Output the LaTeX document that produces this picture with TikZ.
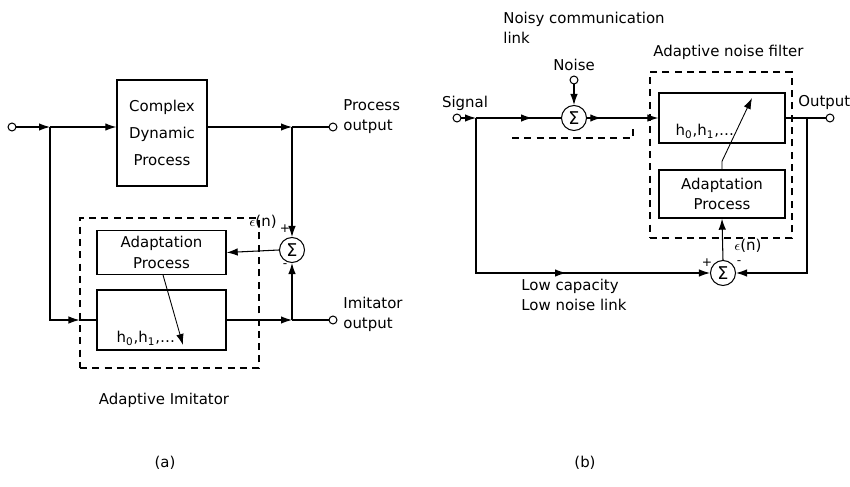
\documentclass[tikz,border=0pt]{standalone}
\usepackage{fontspec}
\setmainfont{DejaVu Sans}
\usetikzlibrary{arrows.meta, decorations.markings, calc}

\begin{document}
\begin{tikzpicture}[
  x=0.02cm, y=-0.02cm,
  font=\fontsize{8.5}{11.5}\selectfont,
  line width=0.6pt,
  >={Latex[length=2.2mm, width=1.5mm]},
  box/.style={draw, rectangle, line width=0.8pt},
  dashbox/.style={draw, rectangle, dash pattern=on 4pt off 3pt},
  sumnode/.style={draw, circle, inner sep=0pt, minimum size=0.5cm, font=\fontsize{10}{10}\selectfont},
  term/.style={draw, circle, inner sep=0pt, minimum size=4.5pt, fill=white},
  signlbl/.style={font=\fontsize{7}{7}\selectfont, inner sep=0pt},
  midarrow/.style={postaction={decorate},
    decoration={markings, mark=at position #1 with {\arrow{Latex[length=2.2mm, width=1.5mm]}}}}
]
\useasboundingbox (0,0) rectangle (850,487);

% (a) adaptive imitator
\node[term] (inA) at (12,127) {};
\coordinate (jA) at (50,127);
\node[box, minimum width=1.8cm, minimum height=2.12cm, align=center] (cdp) at (162,133)
  {Complex\\[4pt]Dynamic\\[4pt]Process};
\coordinate (jB) at (292,127);
\node[term] (outA) at (333,127) {};
\node[anchor=west, align=left] (outAlbl) at (337,117) {Process\\output};

\node[dashbox, minimum width=3.58cm, minimum height=3cm] (imit) at (169.5,293) {};
\node[box, minimum width=2.58cm, minimum height=0.78cm, align=center] (adaptA) at (161.5,252.5)
  {Adaptation\\Process};
\node[box, minimum width=2.58cm, minimum height=1.2cm] (filtA) at (161.5,320) {};
\node[anchor=base west] (hA) at ([shift={(0.28cm,0.16cm)}]filtA.south west)
  {h\textsubscript{0},h\textsubscript{1},\dots};
\coordinate (tipA) at (183,345);

\node[sumnode] (sumA) at (292,250) {Σ};
\coordinate (jC) at (292,320);
\node[term] (outB) at (333,320) {};
\node[anchor=west, align=left] (outBlbl) at (337,314) {Imitator\\output};
\node[anchor=east] (errA) at (283,222) {$\epsilon$(n)};
\node[signlbl] (plusA) at (285,229) {+};
\node[signlbl] (minusA) at (285,266) {-};
\node (imitlbl) at (164,400) {Adaptive Imitator};
\node (capA) at (165,463) {(a)};

\draw[->] (inA) -- (jA);
\draw[->] (jA) -- (cdp.west |- jA);
\draw[->] (cdp.east |- jB) -- (jB);
\draw (jB) -- (outA);
\draw[->] (jB) -- (sumA.north);
\draw[->] (jA) |- (imit.west |- filtA.west);
\draw (imit.west |- filtA.west) -- (filtA.west);
\draw[->] (filtA.east) -- (jC);
\draw (jC) -- (outB);
\draw[->] (jC) -- (sumA.south);
\draw[->] (sumA.west) -- (adaptA.east);
\draw[->, line width=0.5pt] ([xshift=0.03cm]adaptA.south) -- (tipA);

% (b) adaptive noise filter
\node[align=left, anchor=west] (linklbl) at (497,28) {Noisy communication\\link};
\node (noiselbl) at (574,65) {Noise};
\node[term] (noise) at (574,80) {};
\node[sumnode] (sumB) at (574,118) {Σ};
\node (siglbl) at (465,103) {Signal};
\node[term] (sig) at (457,118) {};
\coordinate (jE) at (476,118);
\coordinate (lkA) at (512,138);
\coordinate (lkB) at (633,138);
\coordinate (lkC) at (633,126);

\node[dashbox, minimum width=2.84cm, minimum height=3.32cm] (anf) at (721,155) {};
\node[anchor=west] (anflbl) at (647,52) {Adaptive noise filter};
\node[box, minimum width=2.52cm, minimum height=1cm] (filtB) at (722,118) {};
\node[anchor=base west] (hB) at ([shift={(0.22cm,0.16cm)}]filtB.south west)
  {h\textsubscript{0},h\textsubscript{1},\dots};
\node[box, minimum width=2.52cm, minimum height=0.96cm, align=center] (adaptB) at (722,194)
  {Adaptation\\Process};
\coordinate (tipB) at (752,98);
\coordinate (jF) at (807,118);
\node[term] (outC) at (830,118) {};
\node[anchor=west] (outClbl) at (792,103) {Output};

\node[sumnode] (sumC) at (723,273) {Σ};
\node[anchor=west] (errB) at (728,246) {$\epsilon$(n)};
\node[signlbl] (plusB) at (707,263) {+};
\node[signlbl] (minusB) at (739,263) {-};
\node[anchor=west, align=left] (lowlbl) at (515,295) {Low capacity\\Low noise link};
\node (capB) at (585,463) {(b)};

\draw[dash pattern=on 4pt off 3pt] (lkA) -- (lkB) -- (lkC);
\draw[->] (sig) -- (jE);
\draw[midarrow=0.66] (jE) -- (sumB.west);
\draw[->, midarrow=0.2] (sumB.east) -- (filtB.west);
\draw[->] (noise) -- (sumB.north);
\draw (filtB.east) -- (outC);
\draw[->] (jF) |- (sumC.east);
\draw[->, midarrow=0.63] (jE) |- (sumC.west);
\draw[->] (sumC.north) -- (adaptB.south);
\draw[->, line width=0.5pt] (adaptB.north) -- ++(0,-8) -- (tipB);
\end{tikzpicture}
\end{document}
